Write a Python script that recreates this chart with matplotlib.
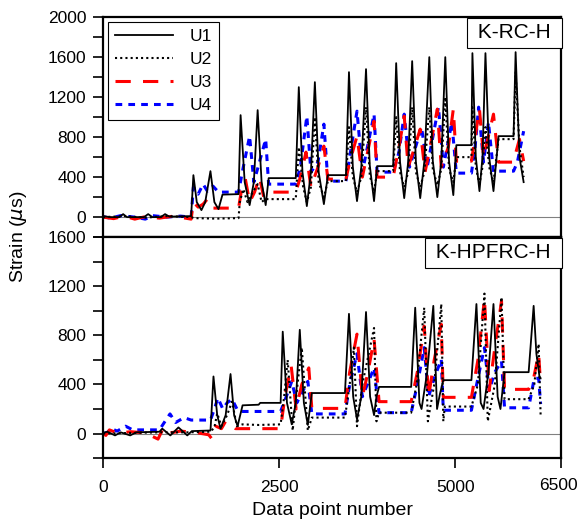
import matplotlib
matplotlib.use('Agg')
from matplotlib import pyplot as plt
from matplotlib.ticker import MultipleLocator
from matplotlib.transforms import ScaledTranslation

plt.rcParams['font.family'] = ['Liberation Sans', 'DejaVu Sans']

# ---- K-RC-H (top panel) ----
rc_u1_x = [0, 100, 230, 285, 340, 580, 640, 700, 820, 880, 940, 1250,
           1282, 1330, 1396, 1450, 1524, 1580, 1638, 1695, 1923,
           1952, 2010, 2080, 2140, 2194, 2250, 2308, 2350, 2735,
           2778, 2830, 2892, 2950, 3006, 3060, 3134, 3191, 3447,
           3490, 3545, 3604, 3665, 3732, 3785, 3846, 3889, 4117,
           4160, 4215, 4274, 4330, 4387, 4440, 4501, 4560, 4630, 4680, 4744, 4800, 4857, 4910, 4971, 5014, 5228,
           5242, 5290, 5342, 5385, 5427, 5480, 5541, 5613, 5826,
           5855, 5910, 5969]
rc_u1 = [10, 0, 0, 30, 0, 0, 30, 0, 0, 30, 5, 10,
         420, 150, 70, 150, 460, 150, 80, 225, 230,
         1020, 350, 120, 350, 1070, 350, 120, 390, 390,
         1300, 450, 110, 450, 1350, 450, 130, 420, 420,
         1450, 500, 160, 500, 1480, 520, 160, 510, 510,
         1540, 550, 190, 550, 1560, 550, 190, 560, 1600, 560, 200, 560, 1600, 560, 220, 720, 720,
         1640, 600, 260, 600, 1640, 600, 260, 810, 810,
         1650, 600, 350]

rc_u2_x = [0, 300, 600, 900, 1250, 1290, 1600, 1923, 1940, 1990, 2050, 2100, 2194, 2250, 2300, 2735,
           2778, 2840, 2892, 2950, 3006, 3060, 3134, 3191, 3447,
           3490, 3545, 3604, 3665, 3732, 3785, 3846, 3889, 4117,
           4160, 4215, 4274, 4330, 4387, 4440, 4501, 4560, 4630, 4680, 4744, 4800, 4857, 4910, 4971, 5014, 5228,
           5242, 5290, 5342, 5385, 5427, 5480, 5541, 5613, 5826,
           5855, 5910, 5969]
rc_u2 = [0, 10, -5, 10, 0, -10, -15, -10, 150, 280, 150, 220, 330, 150, 180, 180,
         700, 300, 150, 300, 1000, 350, 200, 360, 360,
         900, 400, 250, 400, 1100, 420, 250, 460, 460,
         1000, 450, 300, 450, 1100, 450, 300, 450, 1100, 480, 320, 480, 1200, 480, 350, 600, 600,
         1100, 500, 330, 500, 900, 500, 350, 780, 780,
         1450, 700, 400]

rc_u3_x = [0, 150, 300, 450, 600, 800, 1000, 1250, 1282, 1350, 1420, 1480, 1550, 1638, 1923,
           1960, 2020, 2080, 2150, 2220, 2280, 2350, 2735,
           2800, 2880, 2950, 3050, 3134, 3191, 3447,
           3500, 3604, 3680, 3846, 3889, 4117,
           4200, 4274, 4330, 4400, 4501, 4570, 4640, 4744, 4800, 4900, 4971, 5014, 5228,
           5280, 5342, 5400, 5541, 5613, 5826, 5860, 5910, 5969]
rc_u3 = [0, -15, 10, -20, 5, -10, 10, -20, 150, 100, 130, 180, 90, 90, 90,
         250, 380, 150, 250, 400, 200, 250, 250,
         400, 650, 300, 500, 710, 380, 380,
         550, 810, 400, 960, 400, 400,
         700, 1010, 500, 650, 880, 450, 700, 1080, 500, 700, 1080, 560, 560,
         800, 1080, 600, 1030, 550, 550, 650, 780, 560]

rc_u4_x = [0, 100, 250, 450, 600, 700, 900, 1100, 1250, 1282, 1350, 1420, 1480, 1560, 1638, 1923,
           1990, 2080, 2140, 2200, 2308, 2350, 2735,
           2800, 2892, 2950, 3050, 3134, 3191, 3447,
           3500, 3604, 3680, 3846, 3889, 4117,
           4200, 4274, 4350, 4520, 4600, 4760, 4830, 4950, 5014, 5228,
           5280, 5330, 5400, 5470, 5541, 5613, 5826, 5880, 5969]
rc_u4 = [5, -10, 15, 0, -20, 15, 0, 10, 0, 300, 230, 330, 260, 310, 250, 250,
         500, 810, 350, 500, 780, 330, 330,
         500, 1010, 450, 550, 930, 360, 360,
         600, 1060, 450, 1030, 450, 450,
         650, 1030, 500, 900, 500, 1100, 500, 950, 440, 440,
         700, 1100, 550, 950, 450, 460, 460, 550, 860]

# ---- K-HPFRC-H (bottom panel) ----
hp_u1_x = [0, 60, 170, 250, 385, 470, 800, 840, 955, 1070, 1195, 1260, 1525,
           1567, 1620, 1667, 1740, 1809, 1860, 1909, 1980, 2208, 2230, 2520,
           2550, 2610, 2678, 2735, 2792, 2850, 2906, 2963, 3433,
           3490, 3550, 3604, 3665, 3732, 3790, 3846, 3880, 3917, 4373,
           4430, 4490, 4520, 4600, 4687, 4740, 4780, 4829, 5228,
           5299, 5360, 5400, 5470, 5541, 5600, 5640, 5698, 6040,
           6111, 6150, 6197, 6210]
hp_u1 = [5, 15, -15, 10, -15, 10, 15, 40, -15, 50, -15, 20, 25,
         465, 150, 40, 150, 485, 150, 60, 230, 235, 250, 250,
         830, 250, 75, 250, 845, 250, 70, 330, 330,
         975, 300, 115, 300, 990, 300, 150, 300, 380, 380,
         1025, 250, 200, 500, 1040, 200, 320, 435, 435,
         1055, 250, 200, 500, 1055, 300, 200, 500, 500,
         1040, 650, 450, 450]

hp_u2_x = [0, 400, 800, 1200, 1525, 1580, 1620, 1680, 1760, 1830, 1900, 1980, 2208, 2520,
           2570, 2620, 2691, 2750, 2820, 2906, 2963, 3433,
           3500, 3560, 3604, 3680, 3846, 3880, 3917, 4373,
           4450, 4558, 4610, 4700, 4800, 4829, 4850, 5228,
           5320, 5413, 5460, 5560, 5655, 5698, 6040,
           6120, 6182, 6210]
hp_u2 = [0, 5, 10, 10, 15, 50, 165, 60, 150, 260, 60, 75, 70, 75,
         300, 600, 25, 350, 700, 25, 130, 130,
         400, 700, 60, 400, 860, 100, 170, 170,
         400, 1025, 100, 400, 1055, 100, 220, 220,
         400, 1140, 100, 400, 1110, 280, 280,
         400, 730, 150]

hp_u3_x = [0, 40, 90, 200, 400, 600, 780, 850, 900, 1100, 1300, 1500, 1540, 1600, 1680, 1740, 1809, 1880, 2208, 2520,
           2580, 2670, 2740, 2820, 2920, 2963, 3433,
           3500, 3604, 3680, 3760, 3846, 3917, 4373,
           4460, 4558, 4620, 4700, 4800, 4829, 5228,
           5320, 5413, 5480, 5560, 5655, 5698, 6040,
           6110, 6182, 6210]
hp_u3 = [0, -15, 30, 5, 15, 5, -45, 40, 0, 20, 10, -10, -40, 60, 40, 100, 80, 40, 40, 40,
         300, 550, 200, 400, 535, 205, 205,
         500, 810, 300, 500, 770, 260, 260,
         500, 875, 300, 600, 890, 295, 295,
         600, 1100, 350, 700, 1080, 360, 360,
         450, 650, 400]

hp_u4_x = [0, 60, 120, 200, 320, 420, 600, 800, 880, 950, 1030, 1150, 1250, 1525,
           1580, 1630, 1700, 1760, 1830, 1909, 1980, 2208, 2520,
           2600, 2678, 2750, 2906, 2963, 3433,
           3500, 3604, 3680, 3846, 3917, 4373,
           4460, 4558, 4620, 4700, 4800, 4829, 5228,
           5320, 5413, 5480, 5560, 5655, 5698, 6040,
           6120, 6182, 6210]
hp_u4 = [0, 10, 40, 20, 60, 30, 30, 30, 100, 160, 90, 130, 110, 110,
         200, 290, 200, 250, 280, 190, 180, 180, 180,
         300, 425, 250, 425, 160, 160,
         400, 650, 300, 535, 170, 170,
         400, 700, 300, 450, 605, 190, 190,
         450, 700, 350, 500, 590, 210, 210,
         450, 450, 240]

fig = plt.figure(figsize=(5.79, 5.2), dpi=100)
ax1 = fig.add_axes([0.178, 0.544, 0.791, 0.423])
ax2 = fig.add_axes([0.178, 0.119, 0.791, 0.425])

styles = dict(
    U1=dict(color='black', linestyle='-', linewidth=1.3),
    U2=dict(color='black', linestyle=(0, (1, 1.5)), linewidth=1.5),
    U3=dict(color='red', linestyle=(0, (5, 4)), linewidth=2.2),
    U4=dict(color='blue', linestyle=(0, (2.2, 2)), linewidth=2.2),
)

top = [(rc_u1_x, rc_u1), (rc_u2_x, rc_u2), (rc_u3_x, rc_u3), (rc_u4_x, rc_u4)]
bot = [(hp_u1_x, hp_u1), (hp_u2_x, hp_u2), (hp_u3_x, hp_u3), (hp_u4_x, hp_u4)]
names = ['U1', 'U2', 'U3', 'U4']

for ax, series in [(ax1, top), (ax2, bot)]:
    ax.axhline(0, color='gray', linewidth=0.8, zorder=1)
    # draw U1 last so it sits on top, like the original
    for name, (xs, ys) in reversed(list(zip(names, series))):
        ax.plot(xs, ys, label=name, zorder=3 if name == 'U1' else 2, **styles[name])
    ax.set_xlim(0, 6500)
    for s in ax.spines.values():
        s.set_linewidth(1.6)
    ax.tick_params(axis='y', which='both', direction='out', length=7, width=1.2, labelsize=12.5, pad=5)
    ax.tick_params(axis='x', which='both', direction='out', length=7, width=1.2, labelsize=12.5, pad=9)

ax1.set_ylim(-200, 2000)
ax1.yaxis.set_major_locator(MultipleLocator(400))
ax1.yaxis.set_minor_locator(MultipleLocator(200))
ax1.set_xticks([])

ax2.set_ylim(-200, 1600)
ax2.yaxis.set_major_locator(MultipleLocator(400))
ax2.yaxis.set_minor_locator(MultipleLocator(200))
ax2.set_xticks([0, 2500, 5000, 6500])
ax2.set_xlabel('Data point number', fontsize=14, labelpad=5)

# the last x label sits a little left and higher in the original
last = ax2.get_xticklabels()[-1]
last.set_transform(last.get_transform() + ScaledTranslation(-2 / 72, 2 / 72, fig.dpi_scale_trans))

# legend with U1..U4 in order
handles, labels = ax1.get_legend_handles_labels()
order = [labels.index(n) for n in names]
leg = ax1.legend([handles[i] for i in order], names, loc='upper left', fontsize=12.5,
                 handlelength=3.3, handletextpad=1.0, borderpad=0.4, labelspacing=0.45,
                 fancybox=False, framealpha=1, edgecolor='black', borderaxespad=0.3)
leg.get_frame().set_linewidth(0.8)

box = dict(boxstyle='square,pad=0.25', facecolor='white', edgecolor='black', linewidth=0.8)
ax1.text(0.99, 0.972, ' K-RC-H ', transform=ax1.transAxes, ha='right', va='top', fontsize=15, bbox=box)
ax2.text(0.99, 0.972, ' K-HPFRC-H ', transform=ax2.transAxes, ha='right', va='top', fontsize=15, bbox=box)

fig.text(0.032, 0.544, 'Strain ($\\mu$s)', rotation=90, ha='center', va='center', fontsize=14)

plt.savefig('out.png', dpi=100)
